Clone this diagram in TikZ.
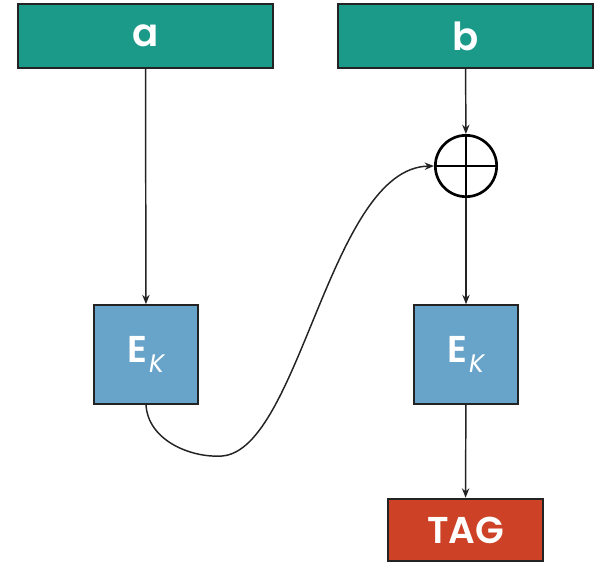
\documentclass[tikz,border=0pt]{standalone}
\usepackage{fontspec}
\setmainfont{Poppins}[BoldFont={Poppins SemiBold}]
\usepackage{xcolor}
\usepackage{tikz}
\usetikzlibrary{calc, arrows.meta}
\definecolor{tealbox}{RGB}{27,154,138}
\definecolor{bluebox}{RGB}{104,164,202}
\definecolor{redbox}{RGB}{205,66,38}
\definecolor{edge}{RGB}{35,35,35}
\tikzstyle{inputbox} = [rectangle, minimum width=191pt, minimum height=48pt, text centered, draw=edge, line width=1.5pt, fill=tealbox, text=white, font=\fontsize{29}{30}\selectfont\bfseries]
\tikzstyle{cipher}   = [rectangle, minimum width=78pt, minimum height=74pt, draw=edge, line width=1.5pt, fill=bluebox, text=white, font=\fontsize{28}{30}\selectfont\bfseries]
\tikzstyle{tagbox}   = [rectangle, minimum width=116pt, minimum height=47pt, text centered, draw=edge, line width=1.5pt, fill=redbox, text=white, font=\fontsize{28}{30}\selectfont\bfseries]
\tikzstyle{xorsym}   = [circle, minimum size=46pt, inner sep=0pt, draw=black, line width=2pt]
\tikzstyle{arrow}    = [line width=1.1pt, draw=edge, -{Stealth[length=7pt,width=5.5pt]}]
\newcommand{\ek}{E\kern1pt\raisebox{-8pt}{\fontsize{19}{20}\selectfont\mdseries\itshape K}}

\begin{document}
\begin{tikzpicture}[x=0.75pt, y=-0.75pt]
    \useasboundingbox (0,0) rectangle (596,562);
    \node (a)    [inputbox] at (145.5,36)  {\raisebox{-3pt}{a}};
    \node (b)    [inputbox] at (465.5,36)  {b};
    \node (xor)  [xorsym]   at (466,166)   {};
    \node (enc1) [cipher]   at (146,354.5) {\ek};
    \node (enc2) [cipher]   at (466,354.5) {\ek};
    \node (tag)  [tagbox]   at (465.5,530) {TAG};

    % xor cross
    \draw [line width=2pt] (xor.north) -- (xor.south);
    \draw [line width=2pt] (xor.west) -- (xor.east);

    % arrows
    \draw [arrow] (a)    -- (enc1);
    \draw [arrow] (b)    -- (xor);
    \draw [arrow] (xor)  -- (enc2);
    \draw [arrow] (enc2) -- (tag);
    \draw [arrow] (enc1.south) .. controls (148,440) and (190,458) .. (222,456)
                  .. controls (300,450) and (330,168) .. (xor.west);

  \end{tikzpicture}
\end{document}
